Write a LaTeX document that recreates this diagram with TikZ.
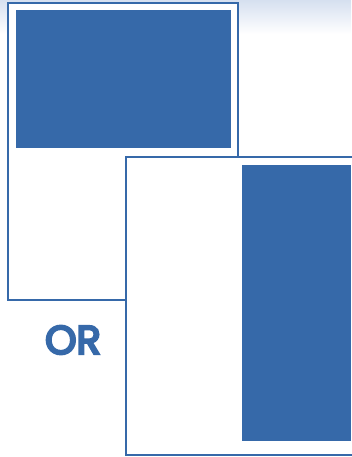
\documentclass[tikz,border=0pt]{standalone}
\usepackage{fontspec}
\setmainfont{Poppins}
\usepackage{tikz}
\definecolor{col1}{RGB}{54,105,169}
\definecolor{col2}{RGB}{214,224,240}

\begin{document}
\begin{tikzpicture}[x=1pt,y=-1pt]
  \useasboundingbox (0,0) rectangle (351,457);
  % pozadina: svijetli prijelaz na vrhu
  \shade[top color=col2, bottom color=white] (0,0) rectangle (351,34);

  % prvi list: lezeci pravokutnik
  \filldraw[fill=white, draw=col1, line width=1.8pt] (8,3) rectangle (238,300);
  \fill[col1] (16,10) rectangle (231,148);

  % drugi list: uspravni pravokutnik
  \filldraw[fill=white, draw=col1, line width=1.8pt] (126,157) rectangle (354,455);
  \fill[col1] (242,165) rectangle (351,441);

  % oznaka
  \node[text=col1, font=\fontsize{40}{40}\selectfont\addfontfeature{FakeBold=6}] (ili) at (73,340) {OR};
\end{tikzpicture}
\end{document}
